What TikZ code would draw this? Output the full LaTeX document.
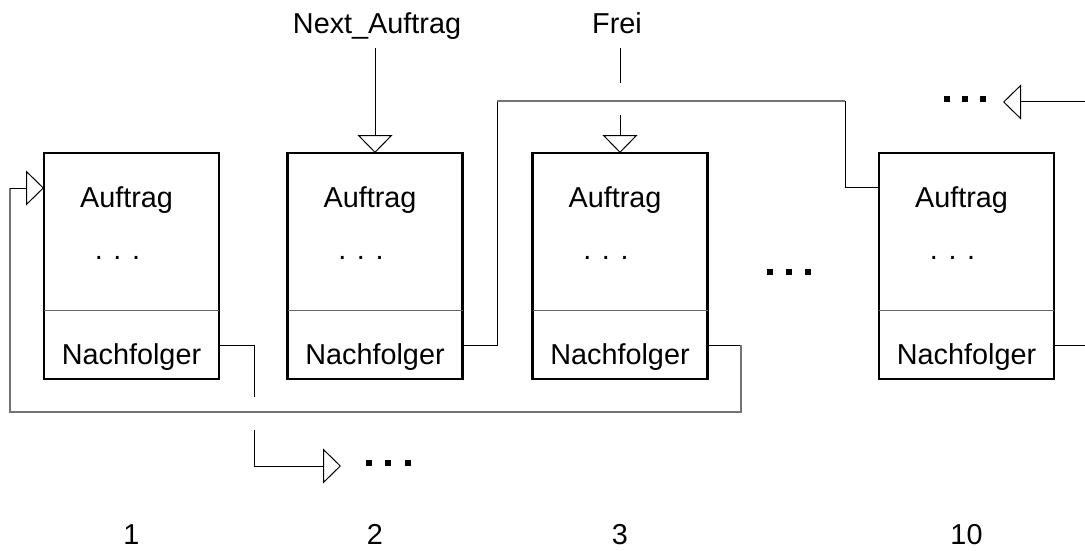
\documentclass[tikz,border=0pt]{standalone}
\usepackage{fontspec}
\setmainfont{Liberation Sans}
\usetikzlibrary{arrows.meta,calc}
\begin{document}
\begin{tikzpicture}[x=1pt,y=-1pt,
  box/.style={draw=black, line width=2.8pt, minimum width=175pt, minimum height=226pt, inner sep=0pt, outer sep=0pt},
  lbl/.style={font=\fontsize{28.8}{34}\selectfont, inner sep=0pt, anchor=base},
  conn/.style={draw=black, line width=1pt},
  gconn/.style={draw=black!55, line width=1.5pt},
  divider/.style={draw=black!60, line width=1pt},
  tri/.style={-{Triangle[open, length=18pt, width=35pt]}},
  bigdot/.style={fill=black, minimum size=5.5pt, inner sep=0pt, outer sep=0pt}
]
\useasboundingbox (0,0) rectangle (1085,551);

\foreach \i/\x/\n in {1/131.5/1,2/375/2,3/620/3,4/966.5/10}{
  \node[box] (b\i) at (\x,266) {};
  \draw[divider] ([yshift=-44pt]b\i.west) -- ([yshift=-44pt]b\i.east);
  \node[lbl] (a\i) at ({\x-5},207) {Auftrag};
  \node[lbl] (d\i) at ({\x-14},259) {. . .};
  \node[lbl] (n\i) at (\x,364) {Nachfolger};
  \node[lbl] (l\i) at (\x,544) {\n};
}

% top labels and arrows
\node[lbl] (na) at (377,34) {Next\_Auftrag};
\coordinate (na1) at (375,48);
\draw[conn,tri] (na1) -- (b2.north);
\node[lbl] (fr) at (617,34) {Frei};
\coordinate (fr1) at (620,48);
\coordinate (fr2) at (620,83);
\coordinate (fr3) at (620,115);
\draw[conn] (fr1) -- (fr2);
\draw[conn,tri] (fr3) -- (b3.north);

% box 1 successor
\coordinate (o1) at ([yshift=34pt]b1.south east);
\coordinate (c1e) at (254,397);
\draw[conn] (o1) -| (c1e);
\coordinate (c1s) at (254,430);
\coordinate (bt) at (341,466);
\draw[conn,tri] (c1s) |- (bt);
\node[bigdot] (bd1) at (369,463) {};
\node[bigdot] (bd2) at (388,463) {};
\node[bigdot] (bd3) at (408,463) {};

% box 2 successor
\coordinate (o2) at ([yshift=34pt]b2.south east);
\coordinate (m1) at (497,345);
\coordinate (m2) at (497,101);
\coordinate (m3) at (845,101);
\coordinate (m4) at (845,187);
\coordinate (in4) at ([yshift=79pt]b4.west);
\draw[conn] (o2) -- (m1) -- (m2);
\draw[gconn] (m2) -- (m3);
\draw[conn] (m3) -- (m4) -- (in4);

% box 3 successor (loop back to box 1)
\coordinate (o3) at ([yshift=34pt]b3.south east);
\coordinate (k1) at (741,345);
\coordinate (k2) at (741,412);
\coordinate (k3) at (10,412);
\coordinate (k4) at (10,188);
\coordinate (in1) at ([yshift=78pt]b1.west);
\draw[conn] (o3) -- (k1);
\draw[gconn] (k1) -- (k2) -- (k3) -- (k4);
\draw[conn,tri] (k4) -- (in1);

% middle dots
\node[bigdot] (md1) at (770,272) {};
\node[bigdot] (md2) at (789,272) {};
\node[bigdot] (md3) at (808,272) {};

% right incoming arrow
\coordinate (r0) at (1085,102);
\coordinate (rt) at (1003,102);
\draw[conn,tri] (r0) -- (rt);
\node[bigdot] (rd1) at (947,99) {};
\node[bigdot] (rd2) at (965,99) {};
\node[bigdot] (rd3) at (983,99) {};

% box 4 successor
\coordinate (o4) at ([yshift=34pt]b4.south east);
\coordinate (o4e) at (1085,345);
\draw[conn] (o4) -- (o4e);
\end{tikzpicture}
\end{document}
